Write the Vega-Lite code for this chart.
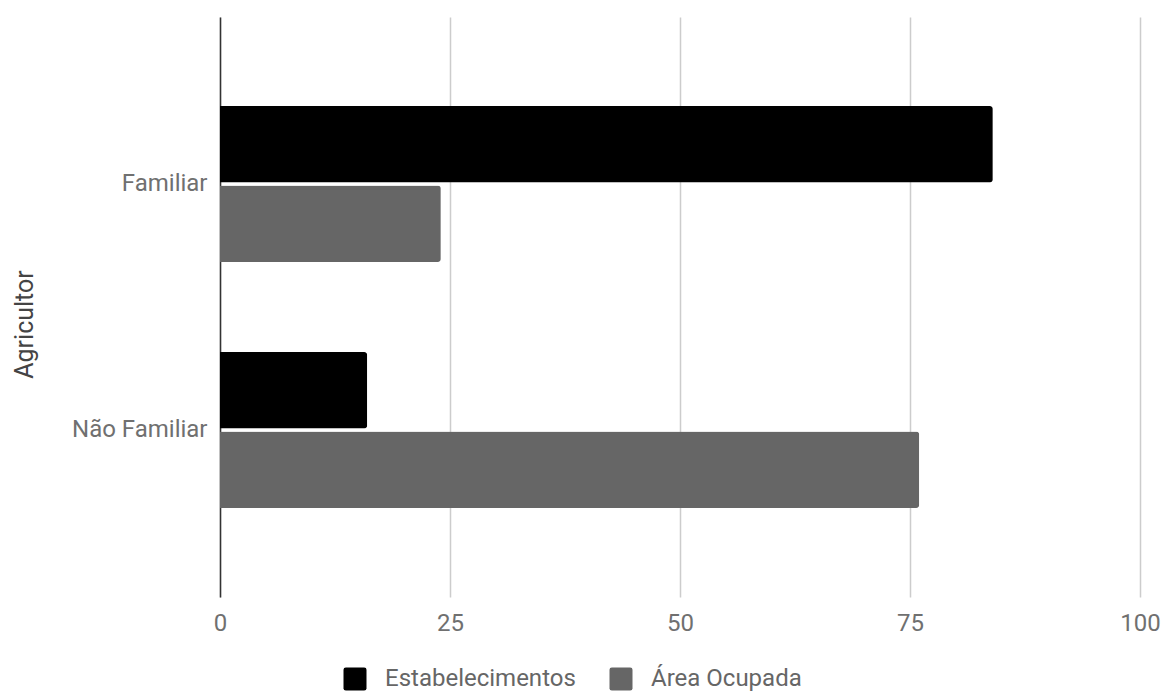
{
  "$schema": "https://vega.github.io/schema/vega-lite/v6.json",
  "width": 920,
  "height": 580,
  "autosize": "none",
  "padding": {"left": 220, "top": 17, "right": 23, "bottom": 95},
  "background": "white",
  "config": {
    "font": "Roboto",
    "view": {"stroke": null}
  },
  "data": {
    "values": [
      {"Agricultor": "Familiar", "Serie": "Estabelecimentos", "Percentual": 84},
      {"Agricultor": "Familiar", "Serie": "Área Ocupada", "Percentual": 24},
      {"Agricultor": "Não Familiar", "Serie": "Estabelecimentos", "Percentual": 16},
      {"Agricultor": "Não Familiar", "Serie": "Área Ocupada", "Percentual": 76}
    ]
  },
  "mark": {"type": "bar", "cornerRadiusEnd": 3},
  "encoding": {
    "y": {
      "field": "Agricultor",
      "type": "nominal",
      "sort": ["Familiar", "Não Familiar"],
      "scale": {"paddingInner": 0.366, "paddingOuter": 0.362},
      "axis": {
        "title": "Agricultor",
        "titleFont": "Roboto",
        "titleFontSize": 25,
        "titleFontWeight": "normal",
        "titleColor": "#444444",
        "titleAngle": 270,
        "titleAlign": "center",
        "titleBaseline": "middle",
        "titleX": -196,
        "titleY": 307,
        "labelFontSize": 24,
        "labelColor": "#707070",
        "labelPadding": 13,
        "labelLimit": 300,
        "ticks": false,
        "domainColor": "#333333",
        "domainWidth": 1.5,
        "grid": false
      }
    },
    "x": {
      "field": "Percentual",
      "type": "quantitative",
      "scale": {"domain": [0, 100], "nice": false},
      "axis": {
        "title": null,
        "values": [0, 25, 50, 75, 100],
        "labelFontSize": 24,
        "labelColor": "#707070",
        "labelPadding": 14,
        "labelFlush": false,
        "ticks": false,
        "domain": false,
        "grid": true,
        "gridColor": "#cccccc",
        "gridWidth": 1.5
      }
    },
    "yOffset": {
      "field": "Serie",
      "sort": ["Estabelecimentos", "Área Ocupada"],
      "scale": {"paddingInner": 0.04, "paddingOuter": 0}
    },
    "color": {
      "field": "Serie",
      "type": "nominal",
      "sort": ["Estabelecimentos", "Área Ocupada"],
      "scale": {"domain": ["Estabelecimentos", "Área Ocupada"], "range": ["#000000", "#666666"]},
      "legend": {
        "title": null,
        "orient": "none",
        "direction": "horizontal",
        "legendX": 123,
        "legendY": 650,
        "symbolType": "M-0.8,-1H0.8Q1,-1 1,-0.8V0.8Q1,1 0.8,1H-0.8Q-1,1 -1,0.8V-0.8Q-1,-1 -0.8,-1Z",
        "symbolSize": 529,
        "symbolStrokeWidth": 0,
        "symbolOpacity": 1,
        "labelFontSize": 24,
        "labelColor": "#666666",
        "labelOffset": 18,
        "labelLimit": 400,
        "columnPadding": 33
      }
    }
  }
}
